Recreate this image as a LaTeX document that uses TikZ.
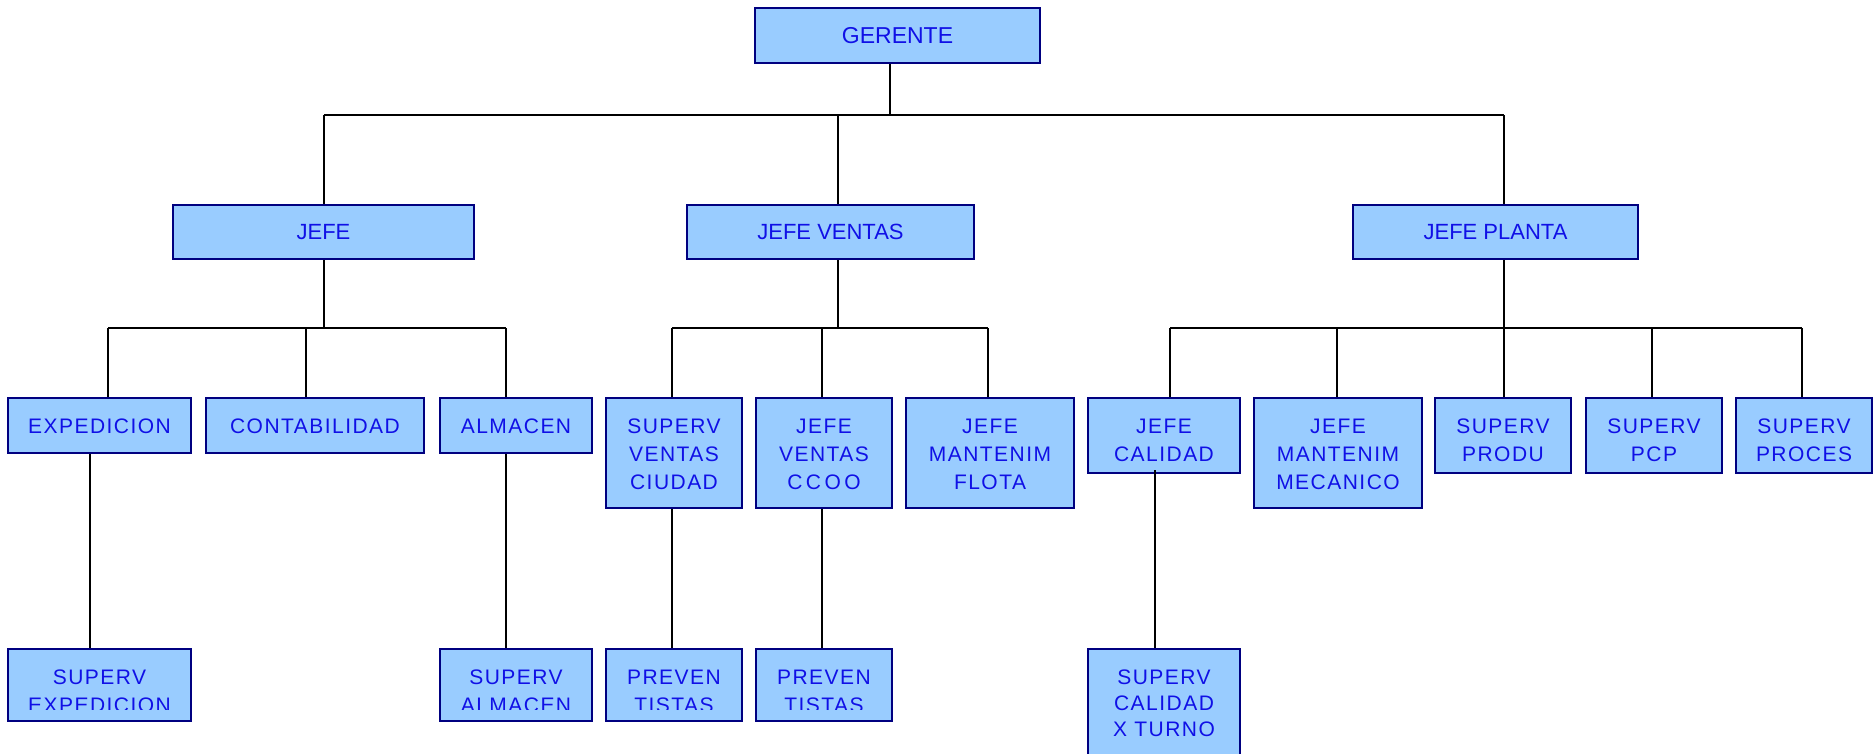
\documentclass[tikz,border=0pt]{standalone}
\usepackage{fontspec}
\setmainfont{Liberation Sans}
\newfontfamily\orgfont[LetterSpace=7]{Liberation Sans}
\newfontfamily\headfont{Liberation Sans}
\definecolor{boxfill}{HTML}{99CCFF}
\definecolor{boxline}{HTML}{000080}
\definecolor{boxtext}{RGB}{16,16,230}

\begin{document}
\begin{tikzpicture}[x=1pt,y=-1pt,
  orgbox/.style={draw=boxline, line width=2.3pt, fill=boxfill, inner sep=0pt, rectangle},
  link/.style={draw=black, line width=2pt},
  headtext/.style={text=boxtext, font=\headfont\fontsize{22}{26}\selectfont},
  toptext/.style={text=boxtext, font=\orgfont\fontsize{21}{28}\selectfont,
    align=center, inner sep=0pt, anchor=north}
]
\useasboundingbox (0,0) rectangle (1876,753);
\clip (0,0) rectangle (1876,753);

% ---------- boxes ----------
% top and first level (single line, centred text)
\node[orgbox, headtext, font=\headfont\fontsize{23}{27}\selectfont,
      minimum width=285pt, minimum height=55pt] (g)  at (897.5,35.5) {GERENTE};
\node[orgbox, headtext, minimum width=301pt, minimum height=54pt] (j1) at (323.5,232) {JEFE};
\node[orgbox, headtext, minimum width=287pt, minimum height=54pt] (j2) at (830.5,232) {JEFE VENTAS};
\node[orgbox, headtext, minimum width=285pt, minimum height=54pt] (j3) at (1495.5,232) {JEFE PLANTA};

% second level (top at 398)
\node[orgbox, minimum width=183pt, minimum height=55pt]  (exp)   at (99.5,425.5)  {};
\node[orgbox, minimum width=218pt, minimum height=55pt]  (cont)  at (315,425.5)   {};
\node[orgbox, minimum width=152pt, minimum height=55pt]  (alm)   at (516,425.5)   {};
\node[orgbox, minimum width=136pt, minimum height=110pt] (svc)   at (674,453)     {};
\node[orgbox, minimum width=136pt, minimum height=110pt] (jvc)   at (824,453)     {};
\node[orgbox, minimum width=168pt, minimum height=110pt] (jmf)   at (990,453)     {};
\node[orgbox, minimum width=152pt, minimum height=75pt]  (jcal)  at (1164,435.5)  {};
\node[orgbox, minimum width=168pt, minimum height=110pt] (jmm)   at (1338,453)    {};
\node[orgbox, minimum width=136pt, minimum height=75pt]  (sprod) at (1503,435.5)  {};
\node[orgbox, minimum width=136pt, minimum height=75pt]  (spcp)  at (1654,435.5)  {};
\node[orgbox, minimum width=136pt, minimum height=75pt]  (sproc) at (1804,435.5)  {};

% third level (top at 649)
\node[orgbox, minimum width=183pt, minimum height=72pt]  (sexp)  at (99.5,685)   {};
\node[orgbox, minimum width=152pt, minimum height=72pt]  (salm)  at (516,685)    {};
\node[orgbox, minimum width=136pt, minimum height=72pt]  (prev1) at (674,685)    {};
\node[orgbox, minimum width=136pt, minimum height=72pt]  (prev2) at (824,685)    {};
\node[orgbox, minimum width=152pt, minimum height=141pt] (scal)  at (1164,719.5) {};

% ---------- connectors ----------
\coordinate (a0) at (890,115);
\coordinate (a1) at (324,115);
\coordinate (a2) at (838,115);
\coordinate (a3) at (1504,115);
\draw[link] (g.south -| a0) -- (a0);
\draw[link] (a1) -- (a3);
\draw[link] (a1) -- (j1.north -| a1);
\draw[link] (a2) -- (j2.north -| a2);
\draw[link] (a3) -- (j3.north -| a3);

% under JEFE
\coordinate (b0) at (324,328);
\coordinate (b1) at (108,328);
\coordinate (b2) at (306,328);
\coordinate (b3) at (506,328);
\draw[link] (j1.south -| b0) -- (b0);
\draw[link] (b1) -- (b3);
\draw[link] (b1) -- (exp.north -| b1);
\draw[link] (b2) -- (cont.north -| b2);
\draw[link] (b3) -- (alm.north -| b3);

% under JEFE VENTAS
\coordinate (c0) at (838,328);
\coordinate (c1) at (672,328);
\coordinate (c2) at (822,328);
\coordinate (c3) at (988,328);
\draw[link] (j2.south -| c0) -- (c0);
\draw[link] (c1) -- (c3);
\draw[link] (c1) -- (svc.north -| c1);
\draw[link] (c2) -- (jvc.north -| c2);
\draw[link] (c3) -- (jmf.north -| c3);

% under JEFE PLANTA
\coordinate (d0) at (1504,328);
\coordinate (d1) at (1170,328);
\coordinate (d2) at (1337,328);
\coordinate (d3) at (1504,328);
\coordinate (d4) at (1652,328);
\coordinate (d5) at (1802,328);
\draw[link] (j3.south -| d0) -- (d0);
\draw[link] (d1) -- (d5);
\draw[link] (d1) -- (jcal.north -| d1);
\draw[link] (d2) -- (jmm.north -| d2);
\draw[link] (d3) -- (sprod.north -| d3);
\draw[link] (d4) -- (spcp.north -| d4);
\draw[link] (d5) -- (sproc.north -| d5);

% down to the third level
\coordinate (e1) at (90,0);
\coordinate (e2) at (506,0);
\coordinate (e3) at (672,0);
\coordinate (e4) at (822,0);
\coordinate (e5) at (1155,0);
\draw[link] (exp.south -| e1) -- (sexp.north -| e1);
\draw[link] (alm.south -| e2) -- (salm.north -| e2);
\draw[link] (svc.south -| e3) -- (prev1.north -| e3);
\draw[link] (jvc.south -| e4) -- (prev2.north -| e4);
\draw[link] ([yshift=4pt]jcal.south -| e5) -- (scal.north -| e5);

% ---------- texts, top aligned ----------
\node[toptext] (t-exp)   at ([yshift=-20pt]exp.north)   {\rule{0pt}{16pt}EXPEDICION};
\node[toptext] (t-cont)  at ([yshift=-20pt]cont.north)  {\rule{0pt}{16pt}CONTABILIDAD};
\node[toptext] (t-alm)   at ([yshift=-20pt]alm.north)   {\rule{0pt}{16pt}ALMACEN};
\node[toptext] (t-svc)   at ([yshift=-20pt]svc.north)   {\rule{0pt}{16pt}SUPERV\\VENTAS\\CIUDAD};
\node[toptext] (t-jvc)   at ([yshift=-20pt]jvc.north)   {\rule{0pt}{16pt}JEFE\\VENTAS\\C\,C\,O\,O};
\node[toptext] (t-jmf)   at ([yshift=-20pt]jmf.north)   {\rule{0pt}{16pt}JEFE\\MANTENIM\\FLOTA};
\node[toptext] (t-jcal)  at ([yshift=-20pt]jcal.north)  {\rule{0pt}{16pt}JEFE\\CALIDAD};
\node[toptext] (t-jmm)   at ([yshift=-20pt]jmm.north)   {\rule{0pt}{16pt}JEFE\\MANTENIM\\MECANICO};
\node[toptext] (t-sprod) at ([yshift=-20pt]sprod.north) {\rule{0pt}{16pt}SUPERV\\PRODU};
\node[toptext] (t-spcp)  at ([yshift=-20pt]spcp.north)  {\rule{0pt}{16pt}SUPERV\\PCP};
\node[toptext] (t-sproc) at ([yshift=-20pt]sproc.north) {\rule{0pt}{16pt}SUPERV\\PROCES};
\node[toptext, font=\orgfont\fontsize{21}{26}\selectfont]
               (t-scal)  at ([yshift=-20pt]scal.north)  {\rule{0pt}{16pt}SUPERV\\CALIDAD\\X TURNO};

% third-level labels are cut off near the lower edge of their boxes
\begin{scope}
  \clip (sexp.north west) rectangle ([yshift=13pt]sexp.south east);
  \node[toptext] (t-sexp) at ([yshift=-20pt]sexp.north) {\rule{0pt}{16pt}SUPERV\\EXPEDICION};
\end{scope}
\begin{scope}
  \clip (salm.north west) rectangle ([yshift=13pt]salm.south east);
  \node[toptext] (t-salm) at ([yshift=-20pt]salm.north) {\rule{0pt}{16pt}SUPERV\\ALMACEN};
\end{scope}
\begin{scope}
  \clip (prev1.north west) rectangle ([yshift=13pt]prev1.south east);
  \node[toptext] (t-prev1) at ([yshift=-20pt]prev1.north) {\rule{0pt}{16pt}PREVEN\\TISTAS};
\end{scope}
\begin{scope}
  \clip (prev2.north west) rectangle ([yshift=13pt]prev2.south east);
  \node[toptext] (t-prev2) at ([yshift=-20pt]prev2.north) {\rule{0pt}{16pt}PREVEN\\TISTAS};
\end{scope}
\end{tikzpicture}
\end{document}
